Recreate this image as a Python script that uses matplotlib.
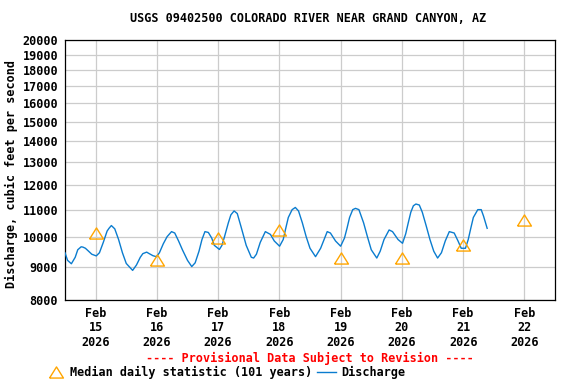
import pandas as pd
import matplotlib
matplotlib.use("Agg")
import matplotlib.pyplot as plt
import matplotlib.dates as mdates
from matplotlib.ticker import FixedLocator, NullLocator, FuncFormatter
from matplotlib.lines import Line2D

# Discharge readings (cfs)
flow_times = [
    "2026-02-14 12:00", "2026-02-14 13:00", "2026-02-14 14:30", "2026-02-14 16:00", "2026-02-14 17:00",
    "2026-02-14 18:20", "2026-02-14 19:00", "2026-02-14 20:00", "2026-02-14 21:00", "2026-02-14 22:30",
    "2026-02-15 00:15", "2026-02-15 01:30", "2026-02-15 03:00", "2026-02-15 04:30", "2026-02-15 05:15",
    "2026-02-15 06:10", "2026-02-15 07:30", "2026-02-15 09:00", "2026-02-15 10:30", "2026-02-15 12:00",
    "2026-02-15 14:30", "2026-02-15 16:00", "2026-02-15 17:30", "2026-02-15 18:30", "2026-02-15 20:00",
    "2026-02-15 21:00", "2026-02-15 22:30", "2026-02-15 23:50",
    "2026-02-16 01:00", "2026-02-16 02:30", "2026-02-16 04:00", "2026-02-16 05:45", "2026-02-16 07:00",
    "2026-02-16 08:30", "2026-02-16 10:00", "2026-02-16 12:00", "2026-02-16 13:40", "2026-02-16 15:00",
    "2026-02-16 16:30", "2026-02-16 17:40", "2026-02-16 18:50", "2026-02-16 20:10", "2026-02-16 21:30",
    "2026-02-16 22:30",
    "2026-02-17 00:30", "2026-02-17 01:30", "2026-02-17 02:30", "2026-02-17 04:00", "2026-02-17 05:00",
    "2026-02-17 06:15", "2026-02-17 07:30", "2026-02-17 09:00", "2026-02-17 11:00", "2026-02-17 13:00",
    "2026-02-17 13:55", "2026-02-17 15:00", "2026-02-17 16:30", "2026-02-17 18:30", "2026-02-17 20:30",
    "2026-02-17 22:00",
    "2026-02-18 00:05", "2026-02-18 01:30", "2026-02-18 02:30", "2026-02-18 03:30", "2026-02-18 05:00",
    "2026-02-18 06:15", "2026-02-18 07:30", "2026-02-18 09:00", "2026-02-18 10:30", "2026-02-18 12:00",
    "2026-02-18 14:10", "2026-02-18 16:10", "2026-02-18 18:45", "2026-02-18 20:00", "2026-02-18 22:00",
    "2026-02-19 00:00", "2026-02-19 01:30", "2026-02-19 02:30", "2026-02-19 03:30", "2026-02-19 04:45",
    "2026-02-19 05:50", "2026-02-19 07:10", "2026-02-19 09:00", "2026-02-19 10:30", "2026-02-19 12:00",
    "2026-02-19 14:10", "2026-02-19 15:30", "2026-02-19 17:00", "2026-02-19 19:00", "2026-02-19 20:20",
    "2026-02-19 22:30",
    "2026-02-20 00:15", "2026-02-20 01:30", "2026-02-20 02:30", "2026-02-20 03:30", "2026-02-20 04:30",
    "2026-02-20 05:30", "2026-02-20 06:50", "2026-02-20 08:00", "2026-02-20 09:30", "2026-02-20 11:00",
    "2026-02-20 12:30", "2026-02-20 14:00", "2026-02-20 15:30", "2026-02-20 17:00", "2026-02-20 18:35",
    "2026-02-20 20:30", "2026-02-20 22:00", "2026-02-20 23:15",
    "2026-02-21 00:55", "2026-02-21 02:00", "2026-02-21 03:00", "2026-02-21 04:00", "2026-02-21 05:45",
    "2026-02-21 07:05", "2026-02-21 08:00", "2026-02-21 09:25",
]
flow_cfs = [
    9450, 9200, 9090, 9300, 9550, 9650, 9640, 9600, 9520, 9400,
    9345, 9450, 9800, 10200, 10300, 10400, 10280, 9900, 9450, 9100,
    8880, 9050, 9300, 9420, 9470, 9420, 9350, 9320,
    9450, 9750, 10000, 10180, 10130, 9850, 9550, 9200, 9000, 9120,
    9500, 9900, 10180, 10150, 9950, 9700,
    9560, 9700, 10000, 10500, 10800, 10950, 10850, 10350, 9700, 9300,
    9275, 9400, 9800, 10180, 10080, 9850,
    9670, 9900, 10300, 10700, 11000, 11085, 10950, 10500, 10000, 9600,
    9320, 9600, 10180, 10130, 9850,
    9670, 9950, 10300, 10700, 11000, 11050, 11000, 10500, 10000, 9550,
    9275, 9500, 9900, 10240, 10180, 9900,
    9770, 10100, 10500, 10900, 11150, 11220, 11180, 10900, 10400, 9900,
    9500, 9275, 9450, 9850, 10180, 10130, 9850, 9600,
    9600, 9900, 10300, 10700, 11000, 11000, 10750, 10300,
]

# Median daily statistic (101 years)
median_days = ["2026-02-15", "2026-02-16", "2026-02-17", "2026-02-18",
               "2026-02-19", "2026-02-20", "2026-02-21", "2026-02-22"]
median_cfs = [10120, 9220, 9940, 10230, 9260, 9280, 9720, 10600]

y_ticks = list(range(8000, 20001, 1000))

FONT = "DejaVu Sans Mono"
FS = 8.5
BLUE = "#0a7ccf"
ORANGE = "#ffa500"
tri = [(-5, -4), (5, -4), (0, 4), (-5, -4)]

plt.rcParams['font.family'] = FONT
plt.rcParams['font.weight'] = 'bold'

fig = plt.figure(figsize=(5.76, 3.84), dpi=100)
ax = fig.add_axes([65 / 576, 1 - 300 / 384, 490 / 576, 260 / 384])

t = pd.to_datetime(flow_times)
md = pd.to_datetime(median_days)

ax.plot(t, flow_cfs, color=BLUE, linewidth=1.0, zorder=3)
ax.plot(md, median_cfs, linestyle='none', marker=tri, markersize=10,
        markerfacecolor='none', markeredgecolor=ORANGE, markeredgewidth=1.0,
        clip_on=False, zorder=4)

ax.set_yscale('log')
ax.set_ylim(8000, 20000)
ax.yaxis.set_major_locator(FixedLocator(y_ticks))
ax.yaxis.set_minor_locator(NullLocator())
ax.yaxis.set_major_formatter(FuncFormatter(lambda v, p: f"{v:.0f}"))

ax.set_xlim(pd.Timestamp("2026-02-14 12:00"), pd.Timestamp("2026-02-22 12:00"))
ax.set_xticks(md)
ax.set_xticklabels([f"{d:%b}\n{d.day}\n{d.year}" for d in md], linespacing=1.15)

ax.grid(True, color='#cccccc', linewidth=0.9)
ax.set_axisbelow(True)
for s in ax.spines.values():
    s.set_linewidth(0.9)
    s.set_color('black')
ax.tick_params(length=0, labelsize=FS, pad=5)

ax.set_ylabel("Discharge, cubic feet per second", fontsize=FS, fontweight='bold')
ax.yaxis.set_label_coords(-0.096, 0.485)

fig.text(0.535, 1 - 19 / 384, "USGS 09402500 COLORADO RIVER NEAR GRAND CANYON, AZ",
         ha='center', va='center', fontsize=FS, fontweight='bold')
fig.text(310 / 576, 1 - 358 / 384, "---- Provisional Data Subject to Revision ----",
         ha='center', va='center', fontsize=FS, fontweight='bold', color='red')

# legend row
ly = 1 - 372 / 384
fig.add_artist(Line2D([56 / 576], [ly], marker=tri, markersize=10, linestyle='none',
                      markerfacecolor='none', markeredgecolor=ORANGE, markeredgewidth=1.0,
                      transform=fig.transFigure))
fig.text(70 / 576, ly, "Median daily statistic (101 years)", ha='left', va='center',
         fontsize=FS, fontweight='bold')
fig.add_artist(Line2D([317 / 576, 336 / 576], [ly, ly], color=BLUE, linewidth=1.0,
                      transform=fig.transFigure))
fig.text(341 / 576, ly, "Discharge", ha='left', va='center', fontsize=FS, fontweight='bold')

fig.savefig("out.png", dpi=100)
